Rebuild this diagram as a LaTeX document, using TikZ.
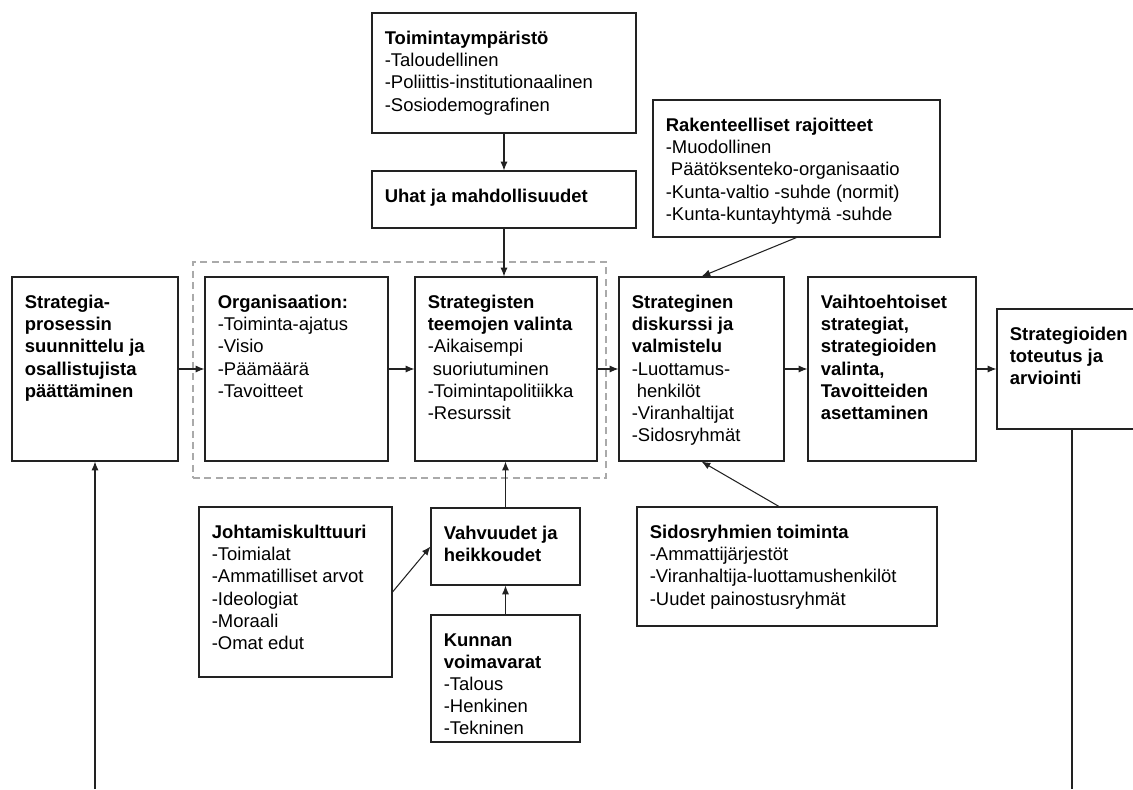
\documentclass[tikz,border=0pt]{standalone}
\usepackage{fontspec}
\setmainfont{Liberation Sans}
\usetikzlibrary{positioning,fit,arrows.meta}
\definecolor{boxline}{HTML}{222222}
\definecolor{frameline}{HTML}{AAAAAA}
\begin{document}
\begin{tikzpicture}[
    x=0.02cm, y=-0.02cm,
    box/.style={draw=boxline, line width=0.6pt, inner sep=0pt},
    frame/.style={draw=frameline, line width=0.6pt, dashed, dash pattern=on 4pt off 2.5pt, inner sep=0pt},
    txt/.style={inner sep=0pt, align=left, font=\fontsize{10.5}{12.6}\selectfont},
    inbox/.style={txt, below right=0.37cm and 0.26cm of #1.north west},
    arr/.style={draw=boxline, line width=0.6pt, -{Latex[length=5pt,width=4pt]}},
    line/.style={draw=boxline, line width=0.6pt},
    ]
    \clip (0,0) rectangle (1133,789);
    % boxes
    \node[frame, fit={(193,262) (606,478)}] (valinta) {};
    \node[box, fit={(12,277) (178,461)}] (strat) {};
    \node[box, fit={(205,277) (388,461)}] (org) {};
    \node[box, fit={(415,277) (597,461)}] (teema) {};
    \node[box, fit={(619,277) (784,461)}] (disk) {};
    \node[box, fit={(808,277) (976,461)}] (vaiht) {};
    \node[box, fit={(997,309) (1147,429)}] (tot) {};
    \node[box, fit={(372,13) (636,133)}] (env) {};
    \node[box, fit={(372,171) (636,228)}] (uhat) {};
    \node[box, fit={(653,100) (940,237)}] (rak) {};
    \node[box, fit={(199,507) (392,677)}] (johto) {};
    \node[box, fit={(431,508) (580,585)}] (vahv) {};
    \node[box, fit={(431,615) (580,742)}] (kunta) {};
    \node[box, fit={(637,507) (937,626)}] (sido) {};

    % texts
    \node[inbox=strat] (strat-t) {\textbf{Strategia-}\\\textbf{prosessin}\\\textbf{suunnittelu ja}\\\textbf{osallistujista}\\\textbf{päättäminen}};
    \node[inbox=org] (org-t) {\textbf{Organisaation:}\\-Toiminta-ajatus\\-Visio\\-Päämäärä\\-Tavoitteet};
    \node[inbox=teema] (teema-t) {\textbf{Strategisten}\\\textbf{teemojen valinta}\\-Aikaisempi\\\ suoriutuminen\\-Toimintapolitiikka\\-Resurssit};
    \node[inbox=disk] (disk-t) {\textbf{Strateginen}\\\textbf{diskurssi ja}\\\textbf{valmistelu}\\-Luottamus-\\\ henkilöt\\-Viranhaltijat\\-Sidosryhmät};
    \node[inbox=vaiht] (vaiht-t) {\textbf{Vaihtoehtoiset}\\\textbf{strategiat,}\\\textbf{strategioiden}\\\textbf{valinta,}\\\textbf{Tavoitteiden}\\\textbf{asettaminen}};
    \node[inbox=tot] (tot-t) {\textbf{Strategioiden}\\\textbf{toteutus ja}\\\textbf{arviointi}};
    \node[inbox=env] (env-t) {\textbf{Toimintaympäristö}\\-Taloudellinen\\-Poliittis-institutionaalinen\\-Sosiodemografinen};
    \node[inbox=uhat] (uhat-t) {\textbf{Uhat ja mahdollisuudet}};
    \node[inbox=rak] (rak-t) {\textbf{Rakenteelliset rajoitteet}\\-Muodollinen\\\ Päätöksenteko-organisaatio\\-Kunta-valtio -suhde (normit)\\-Kunta-kuntayhtymä -suhde};
    \node[inbox=johto] (johto-t) {\textbf{Johtamiskulttuuri}\\-Toimialat\\-Ammatilliset arvot\\-Ideologiat\\-Moraali\\-Omat edut};
    \node[inbox=vahv] (vahv-t) {\textbf{Vahvuudet ja}\\\textbf{heikkoudet}};
    \node[inbox=kunta] (kunta-t) {\textbf{Kunnan}\\\textbf{voimavarat}\\-Talous\\-Henkinen\\-Tekninen};
    \node[inbox=sido] (sido-t) {\textbf{Sidosryhmien toiminta}\\-Ammattijärjestöt\\-Viranhaltija-luottamushenkilöt\\-Uudet painostusryhmät};

    % connectors
    \draw[arr] (env) -- (uhat);
    \draw[arr] (uhat.south) -- (uhat.south |- teema.north);
    \draw[arr] (rak.south) -- (disk.north);
    \draw[arr] (strat.east) -- (org.west);
    \draw[arr] (org.east) -- (teema.west);
    \draw[arr] (teema.east) -- (disk.west);
    \draw[arr] (disk.east) -- (vaiht.west);
    \draw[arr] (vaiht.east) -- (vaiht.east -| tot.west);
    \draw[arr] (vahv.north) -- (vahv.north |- teema.south);
    \draw[arr] (kunta.north) -- (vahv.south);
    \draw[arr] (johto.east) -- (vahv.west);
    \draw[arr] ([xshift=-0.16cm]sido.north) -- (disk.south);
    % feedback loop below the page
    \coordinate (fbin) at (95,789);
    \coordinate (fbout) at (1072,789);
    \draw[arr] (fbin) -- (strat.south);
    \draw[line] (tot.south) -- (tot.south |- fbout);
\end{tikzpicture}
\end{document}
